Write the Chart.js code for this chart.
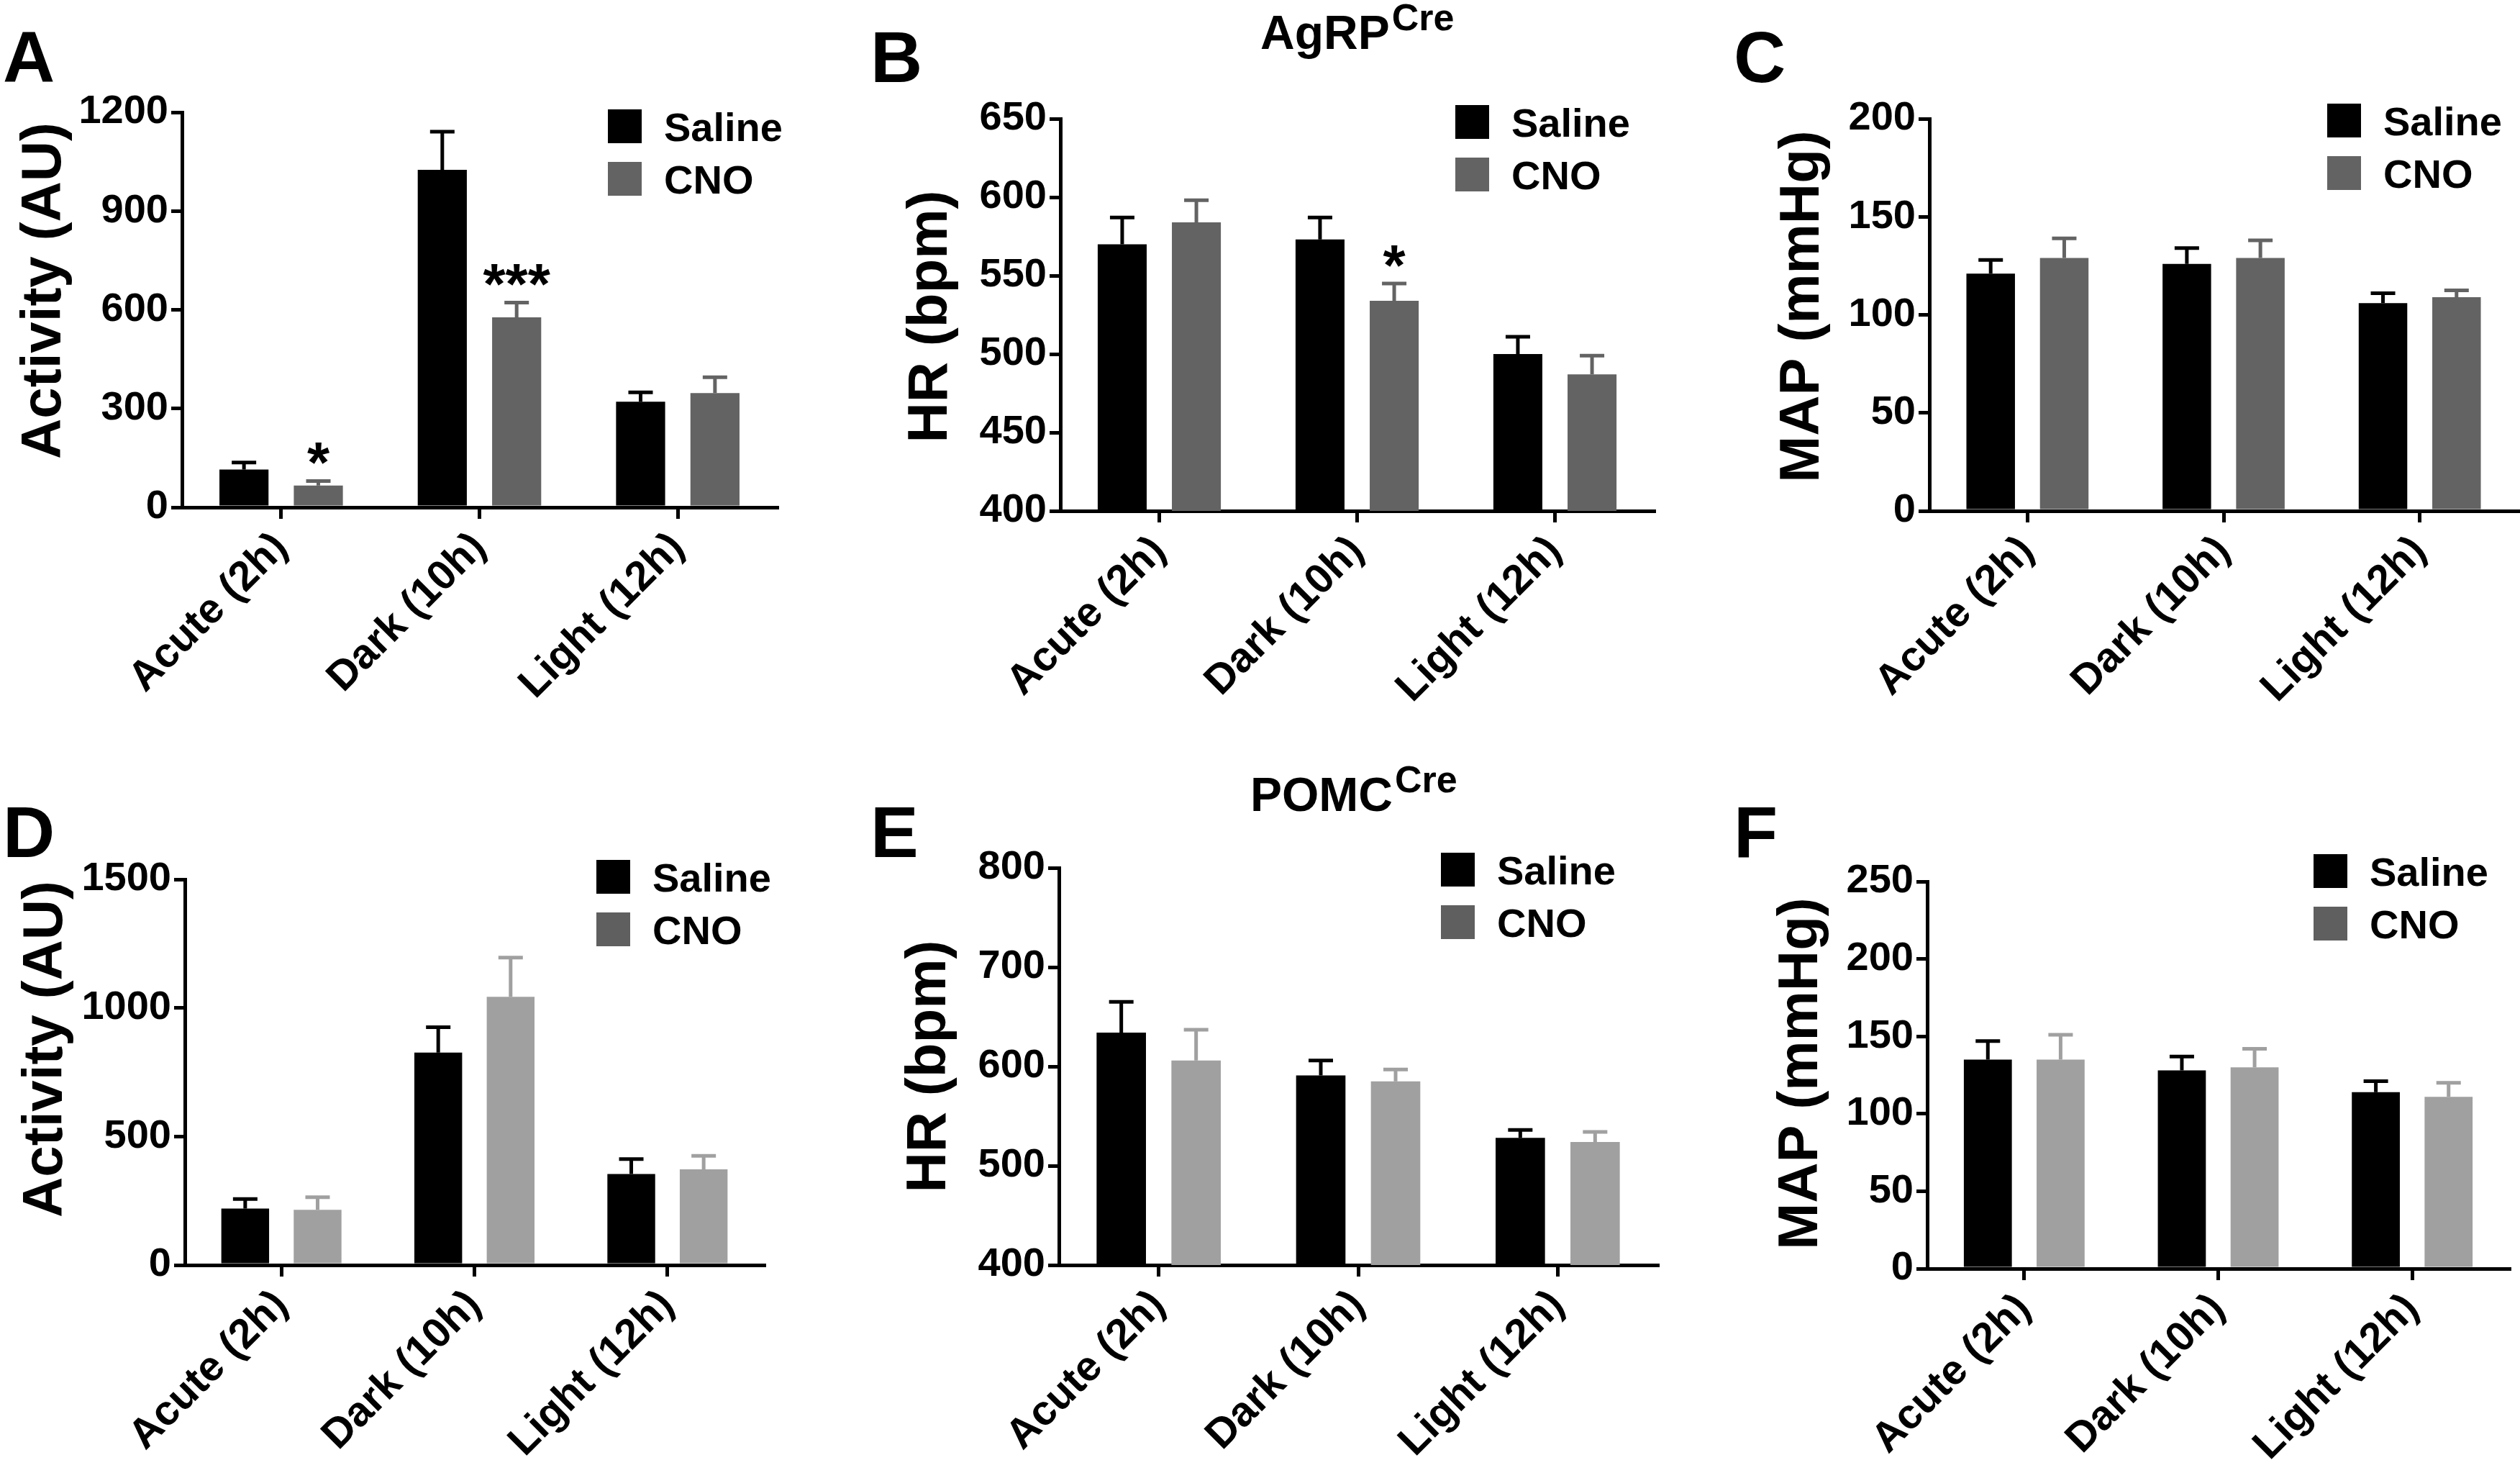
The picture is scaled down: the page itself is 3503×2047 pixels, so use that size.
<!DOCTYPE html>
<html><head><meta charset="utf-8">
<script src="https://cdn.jsdelivr.net/npm/chart.js@4.4.1/dist/chart.umd.min.js"></script>
<style>
html,body{margin:0;padding:0;background:#fff;width:3503px;height:2047px;overflow:hidden;}
canvas{position:absolute;}
</style></head><body>
<canvas id="cA"></canvas><canvas id="cB"></canvas><canvas id="cC"></canvas>
<canvas id="cD"></canvas><canvas id="cE"></canvas><canvas id="cF"></canvas>
<script>
const FONT = '"Liberation Sans", Arial, Helvetica, sans-serif';

// ---------- data ----------
const categories = ['Acute (2h)', 'Dark (10h)', 'Light (12h)'];
const legendLabels = ['Saline', 'CNO'];

// AgRPCre
const agrpActivitySaline = [115, 1025, 321];
const agrpActivitySalineSem = [21, 116, 28];
const agrpActivityCno = [66, 577, 347];
const agrpActivityCnoSem = [14, 45, 48];
const agrpActivityTicks = [0, 300, 600, 900, 1200];

const agrpHrSaline = [570, 573, 500];
const agrpHrSalineSem = [17, 14, 11];
const agrpHrCno = [584, 534, 487];
const agrpHrCnoSem = [14, 11, 12];
const agrpHrTicks = [400, 450, 500, 550, 600, 650];

const agrpMapSaline = [121, 126, 106];
const agrpMapSalineSem = [7, 8, 5];
const agrpMapCno = [129, 129, 109];
const agrpMapCnoSem = [10, 9, 3.5];
const agrpMapTicks = [0, 50, 100, 150, 200];

// POMCCre
const pomcActivitySaline = [220, 826, 354];
const pomcActivitySalineSem = [37, 99, 58];
const pomcActivityCno = [215, 1043, 372];
const pomcActivityCnoSem = [49, 153, 53];
const pomcActivityTicks = [0, 500, 1000, 1500];

const pomcHrSaline = [634, 591, 528];
const pomcHrSalineSem = [31, 15, 8];
const pomcHrCno = [606, 585, 524];
const pomcHrCnoSem = [31, 12, 10];
const pomcHrTicks = [400, 500, 600, 700, 800];

const pomcMapSaline = [135, 128, 114];
const pomcMapSalineSem = [12, 9, 7];
const pomcMapCno = [135, 130, 111];
const pomcMapCnoSem = [16, 12, 9];
const pomcMapTicks = [0, 50, 100, 150, 200, 250];

// significance marks: [datasetIndex, categoryIndex, text]
const starsA = [[1, 0, '*'], [1, 1, '***']];
const starsB = [[1, 1, '*']];

// ---------- plugins ----------
const errorBars = {
  id: 'errorBars',
  afterDatasetsDraw(chart) {
    const ctx = chart.ctx, ys = chart.scales.y;
    chart.data.datasets.forEach((ds, i) => {
      const meta = chart.getDatasetMeta(i);
      meta.data.forEach((bar, j) => {
        const v = ds.data[j], e = ds.errors[j];
        const y0 = ys.getPixelForValue(v), y1 = ys.getPixelForValue(v + e);
        ctx.save();
        ctx.strokeStyle = ds.errorColor;
        ctx.lineWidth = 5;
        ctx.beginPath();
        ctx.moveTo(bar.x, y0); ctx.lineTo(bar.x, y1);
        ctx.moveTo(bar.x - 17, y1); ctx.lineTo(bar.x + 17, y1);
        ctx.stroke();
        ctx.restore();
      });
    });
  }
};

const deco = {
  id: 'deco',
  afterDraw(chart, args, o) {
    const ctx = chart.ctx;
    const [cx, cy] = o.origin;
    ctx.save();
    ctx.fillStyle = '#000';
    // y-axis title
    ctx.save();
    ctx.translate(o.titlePos[0] - cx, o.titlePos[1] - cy);
    ctx.rotate(-Math.PI / 2);
    ctx.textAlign = 'center';
    ctx.textBaseline = 'middle';
    ctx.font = `bold 78px ${FONT}`;
    ctx.fillText(o.title, 0, 0);
    ctx.restore();

    ctx.textAlign = 'left';
    ctx.textBaseline = 'alphabetic';
    ctx.font = `bold 100px ${FONT}`;
    ctx.fillText(o.letter, o.letterPos[0] - cx, o.letterPos[1] - cy);
    if (o.group) {
      ctx.font = `bold 66px ${FONT}`;
      ctx.fillText(o.group[0], o.groupPos[0] - cx, o.groupPos[1] - cy);
      const w = ctx.measureText(o.group[0]).width;
      ctx.font = `bold 52px ${FONT}`;
      ctx.fillText(o.group[1], o.groupPos[0] - cx + w + 3, o.groupPos[1] - cy - 26);
    }
    chart.data.datasets.forEach((ds, i) => {
      const bx = o.legendPos[0] - cx, by = o.legendPos[1] - cy + i * 73;
      ctx.fillStyle = ds.legendColor;
      ctx.fillRect(bx, by, 47, 47);
      ctx.fillStyle = '#000';
      ctx.font = `bold 56px ${FONT}`;
      ctx.fillText(ds.label, bx + 78, by + 44);
    });
    (o.stars || []).forEach(([di, ci, txt]) => {
      const ds = chart.data.datasets[di];
      const bar = chart.getDatasetMeta(di).data[ci];
      const yTop = chart.scales.y.getPixelForValue(ds.data[ci] + ds.errors[ci]);
      ctx.font = `bold 80px ${FONT}`;
      ctx.textAlign = 'center';
      ctx.fillStyle = '#000';
      ctx.fillText(txt, bar.x, yTop + 2);
    });
    ctx.restore();
  }
};

// ---------- panels ----------
function makePanel(p) {
  const cv = document.getElementById(p.id);
  const [cx, cy, cw, ch] = p.cell;
  cv.width = cw; cv.height = ch;
  cv.style.left = cx + 'px'; cv.style.top = cy + 'px';
  cv.style.width = cw + 'px'; cv.style.height = ch + 'px';
  const Wy = p.axisX - cx;
  const Hx = ch - (p.bottom - cy) - 2;
  const ticks = p.ticks;
  new Chart(cv, {
    type: 'bar',
    data: {
      labels: categories,
      datasets: [
        { label: legendLabels[0], data: p.saline, errors: p.salineErr, backgroundColor: '#000000',
          errorColor: '#000000', legendColor: '#000000' },
        { label: legendLabels[1], data: p.cno, errors: p.cnoErr, backgroundColor: p.cnoColor,
          errorColor: p.cnoColor, legendColor: p.cnoLegend }
      ]
    },
    options: {
      responsive: false, animation: false, devicePixelRatio: 1,
      layout: { padding: { left: 0, top: p.top - cy, right: cx + cw - p.right, bottom: 2 } },
      datasets: { bar: { categoryPercentage: 0.75, barPercentage: 0.66 } },
      plugins: {
        legend: { display: false }, tooltip: { enabled: false },
        deco: { origin: [cx, cy], letter: p.letter, letterPos: p.letterPos, group: p.group, groupPos: p.groupPos,
                legendPos: p.legendPos, stars: p.stars, title: p.title, titlePos: p.titlePos }
      },
      scales: {
        x: {
          offset: true,
          grid: { display: true, offset: false, drawOnChartArea: false, drawTicks: true, tickLength: 16,
                  tickWidth: 5, tickColor: '#000', color: '#000', lineWidth: 5 },
          border: { display: true, width: 5, color: '#000' },
          ticks: { color: '#000', font: { family: FONT, size: 58, weight: 'bold' }, minRotation: 45, maxRotation: 45,
                   autoSkip: false, padding: 6 },
          afterFit(s) { s.height = Hx; }
        },
        y: {
          min: ticks[0], max: ticks[ticks.length - 1],
          afterBuildTicks(s) { s.ticks = ticks.map(v => ({ value: v })); },
          grid: { display: true, drawOnChartArea: false, drawTicks: true, tickLength: 15, tickWidth: 5,
                  tickColor: '#000', color: '#000', lineWidth: 5 },
          border: { display: true, width: 5, color: '#000' },
          ticks: { color: '#000', font: { family: FONT, size: 56, weight: 'bold' }, padding: 4,
                   callback: v => String(v) },
          title: { display: false, text: p.title },
          afterFit(s) { s.width = Wy; }
        }
      }
    },
    plugins: [errorBars, deco]
  });
}

const DARK = '#636363', LIGHT = '#a0a0a0', LEG2 = '#5f5f5f';

makePanel({ id: 'cA', cell: [0, 0, 1170, 1000], axisX: 253, top: 156, bottom: 705, right: 1080,
  ticks: agrpActivityTicks, title: 'Activity (AU)', titlePos: [62, 404],
  saline: agrpActivitySaline, salineErr: agrpActivitySalineSem, cno: agrpActivityCno, cnoErr: agrpActivityCnoSem,
  cnoColor: DARK, cnoLegend: DARK, letter: 'A', letterPos: [4, 114], legendPos: [845, 152], stars: starsA });

makePanel({ id: 'cB', cell: [1170, 0, 1170, 1000], axisX: 1474, top: 165, bottom: 710, right: 2299,
  ticks: agrpHrTicks, title: 'HR (bpm)', titlePos: [1294, 440],
  saline: agrpHrSaline, salineErr: agrpHrSalineSem, cno: agrpHrCno, cnoErr: agrpHrCnoSem,
  cnoColor: DARK, cnoLegend: DARK, letter: 'B', letterPos: [1210, 114], legendPos: [2023, 146],
  group: ['AgRP', 'Cre'], groupPos: [1752, 68], stars: starsB });

makePanel({ id: 'cC', cell: [2340, 0, 1163, 1000], axisX: 2682, top: 165, bottom: 710, right: 3500,
  ticks: agrpMapTicks, title: 'MAP (mmHg)', titlePos: [2506, 426],
  saline: agrpMapSaline, salineErr: agrpMapSalineSem, cno: agrpMapCno, cnoErr: agrpMapCnoSem,
  cnoColor: DARK, cnoLegend: DARK, letter: 'C', letterPos: [2410, 114], legendPos: [3235, 144] });

makePanel({ id: 'cD', cell: [0, 1000, 1170, 1047], axisX: 257, top: 1222, bottom: 1758, right: 1062,
  ticks: pomcActivityTicks, title: 'Activity (AU)', titlePos: [64, 1458],
  saline: pomcActivitySaline, salineErr: pomcActivitySalineSem, cno: pomcActivityCno, cnoErr: pomcActivityCnoSem,
  cnoColor: LIGHT, cnoLegend: LEG2, letter: 'D', letterPos: [4, 1191], legendPos: [829, 1195] });

makePanel({ id: 'cE', cell: [1170, 1000, 1170, 1047], axisX: 1472, top: 1206, bottom: 1758, right: 2304,
  ticks: pomcHrTicks, title: 'HR (bpm)', titlePos: [1292, 1482],
  saline: pomcHrSaline, salineErr: pomcHrSalineSem, cno: pomcHrCno, cnoErr: pomcHrCnoSem,
  cnoColor: LIGHT, cnoLegend: LEG2, letter: 'E', letterPos: [1210, 1191], legendPos: [2003, 1185],
  group: ['POMC', 'Cre'], groupPos: [1738, 1127] });

makePanel({ id: 'cF', cell: [2340, 1000, 1163, 1047], axisX: 2679, top: 1225, bottom: 1763, right: 3488,
  ticks: pomcMapTicks, title: 'MAP (mmHg)', titlePos: [2504, 1492],
  saline: pomcMapSaline, salineErr: pomcMapSalineSem, cno: pomcMapCno, cnoErr: pomcMapCnoSem,
  cnoColor: LIGHT, cnoLegend: LEG2, letter: 'F', letterPos: [2410, 1191], legendPos: [3216, 1187] });
</script>
</body></html>
